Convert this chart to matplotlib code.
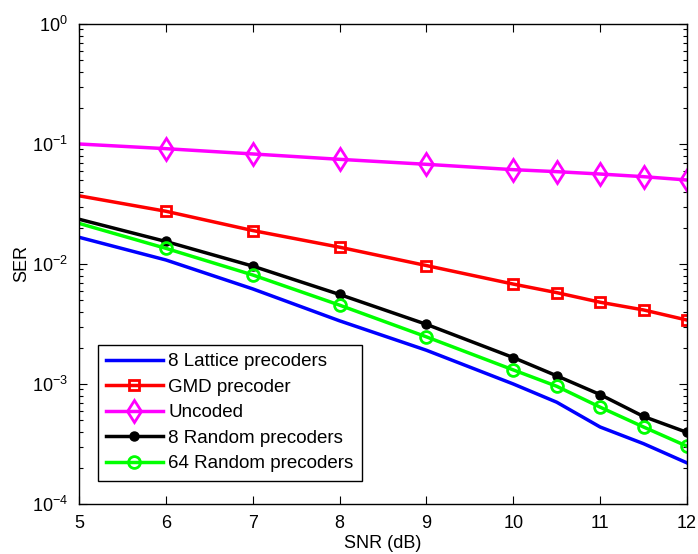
import matplotlib
matplotlib.use("Agg")
import matplotlib.pyplot as plt
from matplotlib.ticker import LogLocator, NullFormatter

plt.rcParams['font.family'] = ['Liberation Sans', 'DejaVu Sans']

snr = [5, 6, 7, 8, 9, 10, 10.5, 11, 11.5, 12]
lattice8 = [0.0167, 0.0108, 0.0062, 0.00336, 0.00191, 0.00100, 0.000705, 0.000438, 0.000318, 0.00022]
gmd = [0.037, 0.0275, 0.019, 0.0138, 0.0097, 0.0068, 0.00577, 0.0048, 0.00414, 0.00341]
uncoded = [0.100, 0.0914, 0.0826, 0.0745, 0.0677, 0.0611, 0.0588, 0.0562, 0.0534, 0.0501]
random8 = [0.0236, 0.0154, 0.0096, 0.00557, 0.00314, 0.00166, 0.00117, 0.000816, 0.000536, 0.000395]
random64 = [0.0218, 0.0135, 0.0081, 0.00454, 0.00247, 0.00131, 0.000957, 0.000641, 0.000438, 0.000303]

labels = ["8 Lattice precoders", "GMD precoder", "Uncoded",
          "8 Random precoders", "64 Random precoders"]
xticks = [5, 6, 7, 8, 9, 10, 11, 12]

fig = plt.figure(figsize=(6.98, 5.54), dpi=100)
ax = fig.add_axes([0.1132, 0.0903, 0.871, 0.8664])

lw = 2.5
me = slice(1, None)
ax.semilogy(snr, lattice8, color='#0000ff', lw=lw, label=labels[0])
ax.semilogy(snr, gmd, color='#ff0000', lw=lw, marker='s', ms=7, mfc='none',
            mew=2, markevery=me, label=labels[1])
ax.semilogy(snr, uncoded, color='#ff00ff', lw=lw, marker='d', ms=11.5, mfc='none',
            mew=2, markevery=me, label=labels[2])
ax.semilogy(snr, random8, color='black', lw=lw, marker='o', ms=6.5, mfc='black',
            markevery=me, label=labels[3])
ax.semilogy(snr, random64, color='#00ff00', lw=lw, marker='o', ms=8.5, mfc='none',
            mew=2, markevery=me, label=labels[4])

ax.set_xlim(5, 12)
ax.set_ylim(1e-4, 1)
ax.set_xticks(xticks)
ax.set_xticklabels([str(t) for t in xticks])
ax.yaxis.set_major_locator(LogLocator(base=10, numticks=10))
ax.yaxis.set_minor_locator(LogLocator(base=10, subs=range(2, 10), numticks=50))
ax.yaxis.set_minor_formatter(NullFormatter())

ax.tick_params(which='both', direction='in', top=True, right=True, labelsize=13)
ax.tick_params(which='major', length=6, width=0.8, pad=8)
ax.tick_params(which='minor', length=3, width=0.8)
for s in ax.spines.values():
    s.set_linewidth(1.0)

ax.set_xlabel("SNR (dB)", fontsize=13, labelpad=2)
ax.set_ylabel("SER", fontsize=13, labelpad=1)

leg = ax.legend(loc='lower left', bbox_to_anchor=(0.031, 0.048), borderaxespad=0,
                fontsize=13.5, fancybox=False, framealpha=1, edgecolor='black',
                handlelength=3.0, handletextpad=0.3, labelspacing=0.45,
                borderpad=0.45)
leg.get_frame().set_linewidth(1.0)

fig.savefig("out.png", dpi=100)
